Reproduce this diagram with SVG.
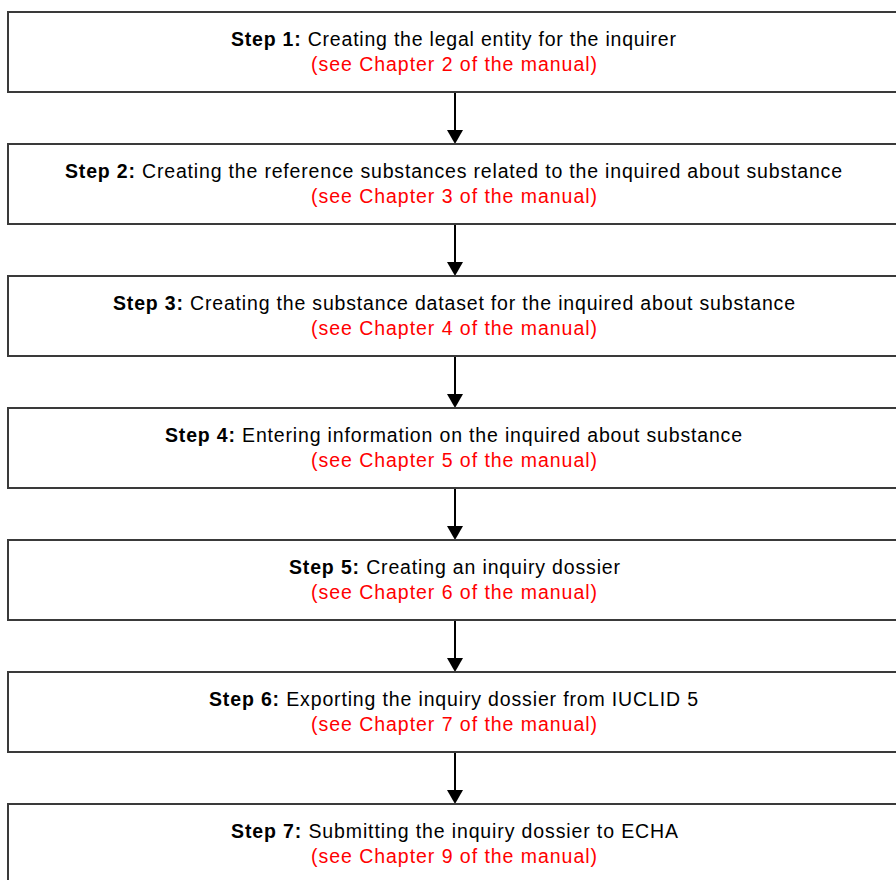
<svg xmlns="http://www.w3.org/2000/svg" width="896" height="880" viewBox="0 0 896 880">
<defs>
<style>
.box{fill:#fff;stroke:#3a3a3a;stroke-width:2}
.t{font-family:"Liberation Sans",Arial,sans-serif;font-size:19.5px;fill:#000;text-anchor:middle}
.b{font-weight:bold}
.r{font-family:"Liberation Sans",Arial,sans-serif;font-size:19.5px;fill:#ff0000;text-anchor:middle}
.c{stroke:#000;stroke-width:2;fill:none}
</style>
</defs>
<rect width="896" height="880" fill="#fff"/>
<g id="connectors">
<line class="c" x1="455" y1="92" x2="455" y2="130"/><path d="M447,130 L463,130 L455,144 Z" fill="#000"/>
<line class="c" x1="455" y1="224" x2="455" y2="262"/><path d="M447,262 L463,262 L455,276 Z" fill="#000"/>
<line class="c" x1="455" y1="356" x2="455" y2="394"/><path d="M447,394 L463,394 L455,408 Z" fill="#000"/>
<line class="c" x1="455" y1="488" x2="455" y2="526"/><path d="M447,526 L463,526 L455,540 Z" fill="#000"/>
<line class="c" x1="455" y1="620" x2="455" y2="658"/><path d="M447,658 L463,658 L455,672 Z" fill="#000"/>
<line class="c" x1="455" y1="752" x2="455" y2="790"/><path d="M447,790 L463,790 L455,804 Z" fill="#000"/>
</g>
<g id="step1">
<rect class="box" x="8" y="12" width="900" height="80"/>
<text class="t" x="453.5" y="46" textLength="445" lengthAdjust="spacing"><tspan class="b">Step 1:</tspan> Creating the legal entity for the inquirer</text>
<text class="r" x="454" y="71" textLength="286" lengthAdjust="spacing">(see Chapter 2 of the manual)</text>
</g>
<g id="step2">
<rect class="box" x="8" y="144" width="900" height="80"/>
<text class="t" x="453.5" y="178" textLength="777" lengthAdjust="spacing"><tspan class="b">Step 2:</tspan> Creating the reference substances related to the inquired about substance</text>
<text class="r" x="454" y="203" textLength="286" lengthAdjust="spacing">(see Chapter 3 of the manual)</text>
</g>
<g id="step3">
<rect class="box" x="8" y="276" width="900" height="80"/>
<text class="t" x="454" y="310" textLength="682" lengthAdjust="spacing"><tspan class="b">Step 3:</tspan> Creating the substance dataset for the inquired about substance</text>
<text class="r" x="454" y="335" textLength="286" lengthAdjust="spacing">(see Chapter 4 of the manual)</text>
</g>
<g id="step4">
<rect class="box" x="8" y="408" width="900" height="80"/>
<text class="t" x="453.5" y="442" textLength="577" lengthAdjust="spacing"><tspan class="b">Step 4:</tspan> Entering information on the inquired about substance</text>
<text class="r" x="454" y="467" textLength="286" lengthAdjust="spacing">(see Chapter 5 of the manual)</text>
</g>
<g id="step5">
<rect class="box" x="8" y="540" width="900" height="80"/>
<text class="t" x="454.5" y="574" textLength="331" lengthAdjust="spacing"><tspan class="b">Step 5:</tspan> Creating an inquiry dossier</text>
<text class="r" x="454" y="599" textLength="286" lengthAdjust="spacing">(see Chapter 6 of the manual)</text>
</g>
<g id="step6">
<rect class="box" x="8" y="672" width="900" height="80"/>
<text class="t" x="453.5" y="706" textLength="489" lengthAdjust="spacing"><tspan class="b">Step 6:</tspan> Exporting the inquiry dossier from IUCLID 5</text>
<text class="r" x="454" y="731" textLength="286" lengthAdjust="spacing">(see Chapter 7 of the manual)</text>
</g>
<g id="step7">
<rect class="box" x="8" y="804" width="900" height="80"/>
<text class="t" x="454.5" y="838" textLength="447" lengthAdjust="spacing"><tspan class="b">Step 7:</tspan> Submitting the inquiry dossier to ECHA</text>
<text class="r" x="454" y="863" textLength="286" lengthAdjust="spacing">(see Chapter 9 of the manual)</text>
</g>
</svg>
